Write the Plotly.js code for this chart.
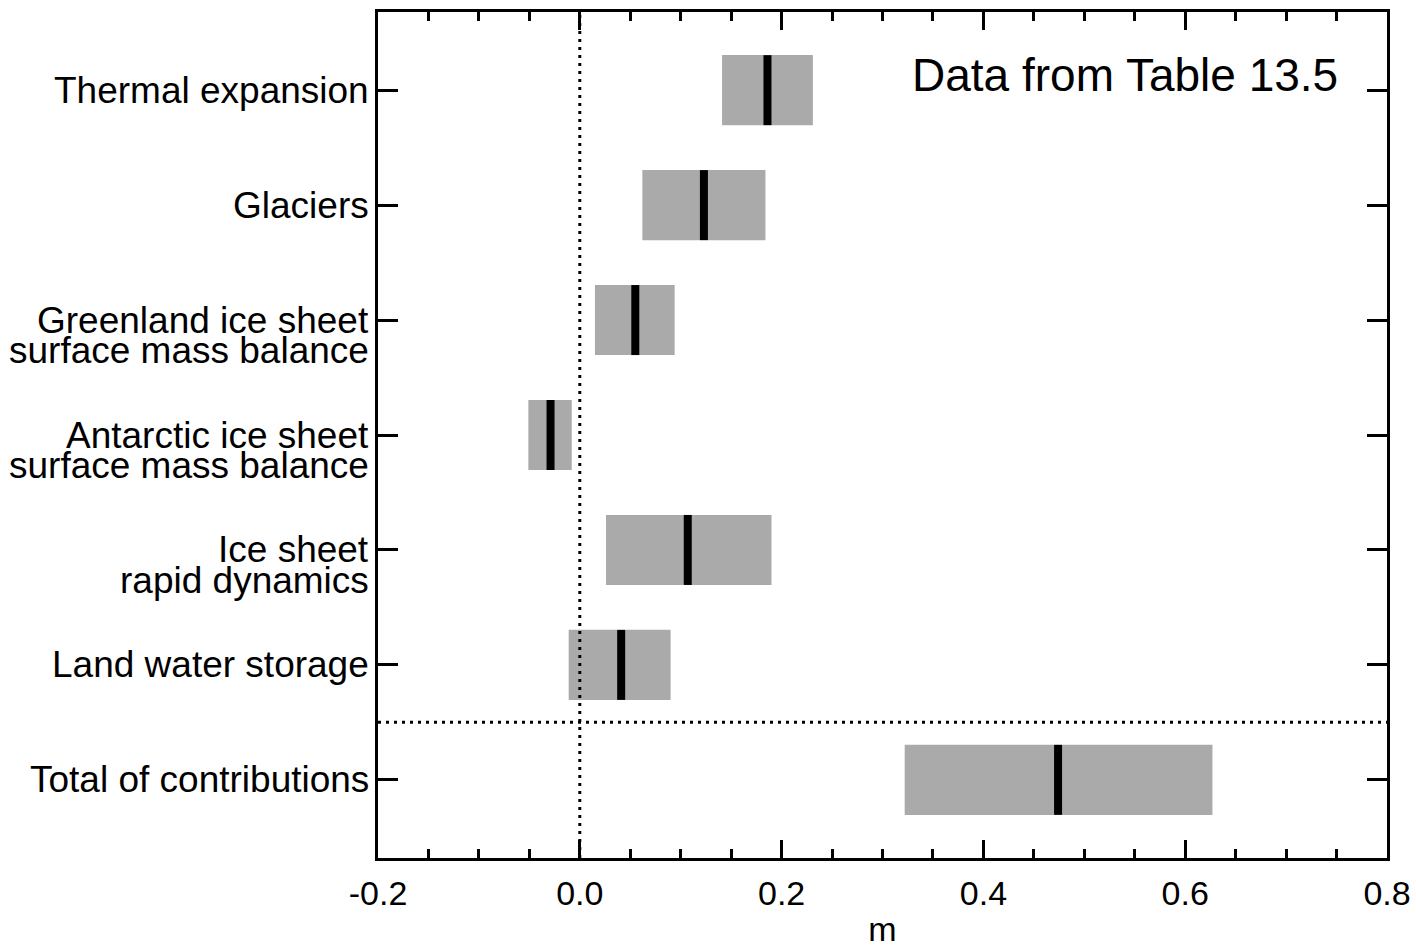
<!DOCTYPE html>
<html>
<head>
<meta charset="utf-8">
<script src="https://cdn.plot.ly/plotly-3.0.1.min.js"></script>
<style>html,body{margin:0;padding:0;background:#fff;}#chart{width:1416px;height:948px;}</style>
</head>
<body>
<div id="chart"></div>
<script>
// Data (metres)
const categories = ["Thermal expansion", "Glaciers", "Greenland ice sheet surface mass balance",
  "Antarctic ice sheet surface mass balance", "Ice sheet rapid dynamics", "Land water storage",
  "Total of contributions"];
const labelLines = [["Thermal expansion"], ["Glaciers"], ["Greenland ice sheet", "surface mass balance"],
  ["Antarctic ice sheet", "surface mass balance"], ["Ice sheet", "rapid dynamics"], ["Land water storage"],
  ["Total of contributions"]];
const lowValues    = [0.141, 0.062, 0.015, -0.051, 0.026, -0.011, 0.322];
const highValues   = [0.231, 0.184, 0.094, -0.008, 0.190,  0.090, 0.627];
const medianValues = [0.186, 0.123, 0.055, -0.029, 0.107,  0.041, 0.474];
const xTickValues = [-0.2, 0.0, 0.2, 0.4, 0.6, 0.8];
const xTickLabels = ["-0.2", "0.0", "0.2", "0.4", "0.6", "0.8"];
const noteText = "Data from Table 13.5";
const xTitle = "m";

const FONT = "Liberation Sans, Arial, sans-serif";

const rangeTrace = {
  type: "bar", orientation: "h",
  y: categories,
  base: lowValues,
  x: highValues.map((h, i) => h - lowValues[i]),
  width: 0.61,
  marker: {color: "#aaaaaa", line: {width: 0}},
  hoverinfo: "skip", showlegend: false
};
const medianTrace = {
  type: "scatter", mode: "markers",
  y: categories, x: medianValues,
  marker: {symbol: "line-ns", size: 50, color: "#000", line: {color: "#000", width: 8}},
  hoverinfo: "skip", showlegend: false
};

const annotations = [];
labelLines.forEach((lines, i) => {
  lines.forEach((t, j) => {
    annotations.push({
      text: t, xref: "paper", yref: "y", x: 0, y: categories[i],
      xanchor: "right", yanchor: "middle", xshift: -8, yshift: -30.5 * j,
      borderpad: 0,
      showarrow: false, align: "right",
      font: {family: FONT, size: 37, color: "#000"}
    });
  });
});
annotations.push({
  text: noteText, xref: "paper", yref: "paper", x: 0.953, y: 0.925,
  xanchor: "right", yanchor: "middle", showarrow: false,
  font: {family: FONT, size: 46, color: "#000"}
});

const layout = {
  width: 1416, height: 948,
  margin: {l: 378, r: 29, t: 12, b: 90, pad: 0},
  paper_bgcolor: "#fff", plot_bgcolor: "#fff",
  font: {family: FONT, size: 34, color: "#000"},
  showlegend: false,
  xaxis: {
    range: [-0.2, 0.8], tickvals: xTickValues, ticktext: xTickLabels,
    ticks: "inside", ticklen: 18, tickwidth: 3, tickcolor: "#000",
    minor: {dtick: 0.05, tick0: 0, ticks: "inside", ticklen: 9, tickwidth: 3, tickcolor: "#000", showgrid: false},
    showline: true, linewidth: 3, linecolor: "#000", mirror: "ticks",
    showgrid: false, zeroline: false,
    ticklabelstandoff: 3,
    tickfont: {family: FONT, size: 34, color: "#000"},
    title: {text: xTitle, font: {family: FONT, size: 34, color: "#000"}, standoff: 14},
    fixedrange: true
  },
  yaxis: {
    type: "category", categoryorder: "array", categoryarray: categories,
    range: [6.68, -0.68],
    ticks: "inside", ticklen: 20, tickwidth: 3, tickcolor: "#000",
    showticklabels: false,
    showline: true, linewidth: 3, linecolor: "#000", mirror: "ticks",
    showgrid: false, zeroline: false, fixedrange: true
  },
  shapes: [
    {type: "line", xref: "x", yref: "paper", x0: 0, x1: 0, y0: 0, y1: 1,
     line: {color: "#000", width: 3, dash: "3px,5px"}, layer: "above"},
    {type: "line", xref: "paper", yref: "y", x0: 0, x1: 1, y0: 5.5, y1: 5.5,
     line: {color: "#000", width: 3, dash: "3px,5px"}, layer: "above"}
  ],
  annotations: annotations
};

Plotly.newPlot("chart", [rangeTrace, medianTrace], layout, {displayModeBar: false, staticPlot: true});
</script>
</body>
</html>
